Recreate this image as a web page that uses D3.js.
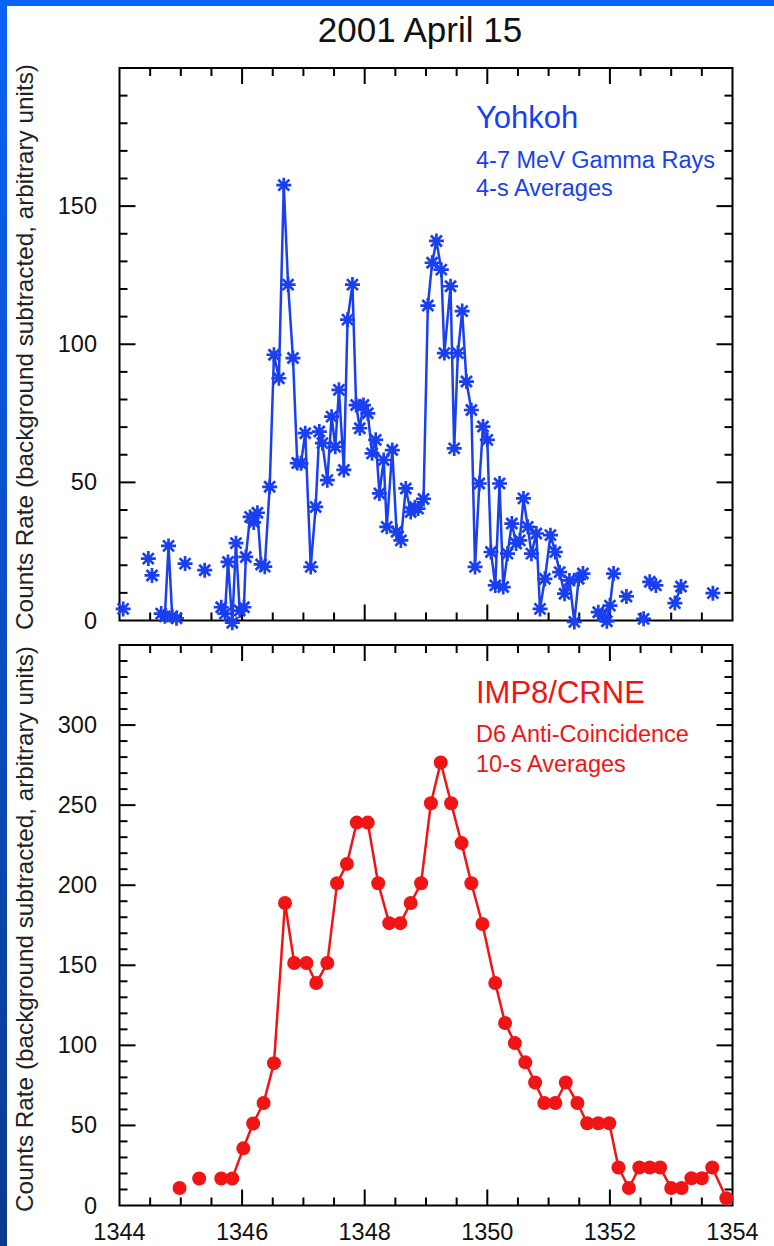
<!DOCTYPE html>
<html><head><meta charset="utf-8">
<script src="https://cdn.jsdelivr.net/npm/d3@7"></script>
<style>html,body{margin:0;padding:0;background:#fff;} svg{display:block;}</style>
</head><body>
<svg id="chart" width="774" height="1246"></svg>
<script>
const chartTitle = "2001 April 15";
const yAxisTitle = "Counts Rate (background subtracted, arbitrary units)";
const xTickLabels = [1344, 1346, 1348, 1350, 1352, 1354];
const topYTickLabels = [0, 50, 100, 150];
const bottomYTickLabels = [0, 50, 100, 150, 200, 250, 300];
const topLegend = ["Yohkoh", "4-7 MeV Gamma Rays", "4-s Averages"];
const bottomLegend = ["IMP8/CRNE", "D6 Anti-Coincidence", "10-s Averages"];

// Yohkoh 4-7 MeV, 4-s averages (null = break in the line)
const yohkohTime = [
  1344.06, null,
  1344.47, null,
  1344.53, null,
  1344.68, 1344.74, 1344.80, 1344.86, 1344.93, null,
  1345.07, null,
  1345.39, null,
  1345.66, 1345.72, 1345.77, 1345.84, 1345.90, 1345.96, 1346.03, 1346.06, 1346.13, 1346.19,
  1346.25, 1346.31, 1346.37, 1346.45, 1346.52, 1346.60, 1346.68, 1346.75, 1346.83, 1346.90,
  1346.96, 1347.03, 1347.12, 1347.20, 1347.26, 1347.31, 1347.39, 1347.46, 1347.52, 1347.58,
  1347.66, 1347.72, 1347.80, 1347.86, 1347.92, 1347.98, 1348.05, 1348.12, 1348.18, 1348.24,
  1348.31, 1348.36, 1348.45, 1348.52, 1348.59, 1348.67, 1348.75, 1348.82, 1348.87, 1348.96,
  1349.03, 1349.10, 1349.17, 1349.25, 1349.30, 1349.40, 1349.46, 1349.52, 1349.59, 1349.66,
  1349.74, 1349.80, 1349.87, 1349.93, 1350.00, 1350.06, 1350.13, 1350.20, 1350.26, 1350.33,
  1350.40, 1350.47, 1350.53, 1350.59, 1350.66, 1350.72, 1350.80, 1350.86, 1350.94, 1351.03,
  1351.11, 1351.18, 1351.26, 1351.34, 1351.42, 1351.49, 1351.56, null,
  1351.81, 1351.88, 1351.95, 1352.00, 1352.06, null,
  1352.27, null,
  1352.55, null,
  1352.65, 1352.75, null,
  1353.06, 1353.16, null,
  1353.68
];
const yohkohRate = [
  4.2, null,
  22.4, null,
  16.3, null,
  2.5, 1.5, 27.0, 1.5, 0.8, null,
  20.6, null,
  18.2, null,
  4.8, 2.5, 21.2, -0.8, 28.0, 3.6, 4.8, 23.0, 37.5, 35.5,
  39.0, 20.3, 19.5, 48.4, 96.2, 87.7, 157.6, 121.6, 95.0, 57.0,
  56.9, 67.8, 19.4, 41.1, 68.4, 64.2, 50.8, 73.8, 62.9, 83.5,
  54.5, 108.9, 121.6, 78.0, 69.6, 78.0, 75.0, 60.5, 65.4, 46.0,
  58.1, 33.9, 61.7, 32.1, 29.0, 47.8, 39.3, 41.0, 40.5, 44.0,
  114.0, 129.5, 137.4, 127.0, 96.8, 121.0, 62.3, 96.8, 112.0, 86.5,
  76.2, 19.4, 49.6, 70.2, 65.4, 24.8, 12.7, 49.6, 12.1, 24.2,
  35.1, 27.9, 29.0, 44.2, 33.9, 24.2, 31.5, 4.2, 15.1, 30.9,
  24.8, 17.5, 9.7, 14.5, -0.5, 15.1, 17.0, null,
  3.0, 1.8, -0.3, 5.4, 17.0, null,
  8.7, null,
  0.6, null,
  14.0, 12.7, null,
  6.3, 12.3, null,
  9.9
];

// IMP8/CRNE D6 anti-coincidence, 10-s averages
const imp8Time = [
  1344.98, null,
  1345.30, null,
  1345.66, 1345.84, 1346.02, 1346.18, 1346.35, 1346.52, 1346.70, 1346.85, 1347.05, 1347.21,
  1347.39, 1347.55, 1347.71, 1347.87, 1348.05, 1348.22, 1348.40, 1348.58, 1348.75, 1348.92,
  1349.08, 1349.24, 1349.41, 1349.58, 1349.74, 1349.92, 1350.13, 1350.29, 1350.45, 1350.62,
  1350.78, 1350.93, 1351.11, 1351.28, 1351.47, 1351.63, 1351.81, 1351.99, 1352.14, 1352.31,
  1352.48, 1352.65, 1352.82, 1353.00, 1353.17, 1353.33, 1353.50, 1353.67, 1353.90
];
const imp8Rate = [
  10.9, null,
  16.9, null,
  16.9, 16.9, 35.7, 51.2, 64.0, 88.9, 188.9, 151.4, 151.4, 138.9,
  151.4, 201.2, 213.3, 239.1, 239.1, 201.2, 176.3, 176.3, 188.9, 201.2,
  251.2, 276.6, 251.2, 226.3, 201.2, 175.8, 138.9, 114.0, 101.4, 89.4,
  76.8, 64.0, 64.0, 76.8, 64.0, 51.4, 51.4, 51.4, 23.7, 10.9,
  23.7, 23.7, 23.7, 10.9, 10.9, 17.0, 17.0, 23.7, 4.5
];

const BLUE = "#1a3ff0", RED = "#f01414";
const FONT = "'Liberation Sans', Arial, Helvetica, sans-serif";

const svg = d3.select("#chart");
const W = 774, H = 1246;

// slide background frame
const defs = svg.append("defs");
const grad = defs.append("linearGradient").attr("id", "band").attr("x1", 0).attr("y1", 0).attr("x2", 0).attr("y2", 1);
grad.append("stop").attr("offset", "0%").attr("stop-color", "#0a62f5");
grad.append("stop").attr("offset", "100%").attr("stop-color", "#0a3a8e");
svg.append("rect").attr("width", W).attr("height", H).attr("fill", "#fff");
svg.append("rect").attr("x", 0).attr("y", 0).attr("width", 7).attr("height", H).attr("fill", "url(#band)");
svg.append("rect").attr("x", 0).attr("y", 0).attr("width", W).attr("height", 6).attr("fill", "#0a62f7");

svg.append("text").attr("x", 420).attr("y", 42).attr("text-anchor", "middle")
  .attr("font-family", FONT).attr("font-size", 35).attr("fill", "#111").text(chartTitle);

const x = d3.scaleLinear().domain([1344, 1354]).range([119.5, 732.5]);

function panel(opts) {
  const { yDomain, yRange, yLabels, time, rate, color, legend, legendY, titleCy, kind } = opts;
  const y = d3.scaleLinear().domain(yDomain).range(yRange);
  const g = svg.append("g");
  const [x0, x1] = x.range();
  const yb = y(yDomain[0]), yt = y(yDomain[1]);

  // ticks on all four sides
  const xMinor = d3.range(1344.5, 1354, 0.5);
  const xMajorSet = new Set(xTickLabels.map(String));
  xMinor.forEach(v => {
    const len = xMajorSet.has(String(v)) ? 16 : 8;
    g.append("line").attr("x1", x(v)).attr("x2", x(v)).attr("y1", yb).attr("y2", yb - len)
      .attr("stroke", "#000").attr("stroke-width", 2);
    g.append("line").attr("x1", x(v)).attr("x2", x(v)).attr("y1", yt).attr("y2", yt + len)
      .attr("stroke", "#000").attr("stroke-width", 2);
  });
  const yMinor = d3.range(yDomain[0] + 10, yDomain[1], 10);
  yMinor.forEach(v => {
    const len = v % 50 === 0 ? 16 : 8;
    g.append("line").attr("x1", x0).attr("x2", x0 + len).attr("y1", y(v)).attr("y2", y(v))
      .attr("stroke", "#000").attr("stroke-width", 2);
    g.append("line").attr("x1", x1).attr("x2", x1 - len).attr("y1", y(v)).attr("y2", y(v))
      .attr("stroke", "#000").attr("stroke-width", 2);
  });
  g.append("rect").attr("x", x0).attr("y", yt).attr("width", x1 - x0).attr("height", yb - yt)
    .attr("fill", "none").attr("stroke", "#000").attr("stroke-width", 2);

  // y tick labels
  g.selectAll(".yl").data(yLabels).join("text")
    .attr("x", 97).attr("y", d => y(d) + 8).attr("text-anchor", "end")
    .attr("font-family", FONT).attr("font-size", 23.5).attr("fill", "#111").text(d => d);

  // y axis title
  g.append("text").attr("transform", `translate(33,${titleCy}) rotate(-90)`)
    .attr("text-anchor", "middle").attr("font-family", FONT).attr("font-size", 24.3)
    .attr("fill", "#222").text(yAxisTitle);

  // data
  const pts = time.map((t, i) => ({ t, v: rate[i] }));
  const line = d3.line().defined(d => d.v !== null && d.t !== null).x(d => x(d.t)).y(d => y(d.v));
  g.append("path").datum(pts).attr("d", line).attr("fill", "none")
    .attr("stroke", color).attr("stroke-width", 2.5).attr("stroke-linejoin", "round");
  const valid = pts.filter(d => d.v !== null && d.t !== null);
  if (kind === "star") {
    const r = 7.5, d2 = 5.5;
    const starPath = `M0,${-r}L0,${r}M${-r},0L${r},0M${-d2},${-d2}L${d2},${d2}M${-d2},${d2}L${d2},${-d2}`;
    g.selectAll(".m").data(valid).join("path")
      .attr("transform", d => `translate(${x(d.t)},${y(d.v)})`)
      .attr("d", starPath).attr("stroke", color).attr("stroke-width", 2.7).attr("fill", "none");
  } else {
    g.selectAll(".m").data(valid).join("circle")
      .attr("cx", d => x(d.t)).attr("cy", d => y(d.v)).attr("r", 7).attr("fill", color);
  }

  // legend
  const sizes = [31, 23.5, 23.5];
  legend.forEach((s, i) => {
    g.append("text").attr("x", 476).attr("y", legendY[i]).attr("font-family", FONT)
      .attr("font-size", sizes[i]).attr("fill", color).text(s);
  });
  return y;
}

panel({ yDomain: [0, 200], yRange: [620.5, 68], yLabels: topYTickLabels,
  time: yohkohTime, rate: yohkohRate, color: BLUE, legend: topLegend,
  legendY: [128, 168, 196], titleCy: 347, kind: "star" });

panel({ yDomain: [0, 350], yRange: [1205.5, 645], yLabels: bottomYTickLabels,
  time: imp8Time, rate: imp8Rate, color: RED, legend: bottomLegend,
  legendY: [703, 742, 772], titleCy: 929, kind: "dot" });

// x tick labels (bottom panel only)
svg.selectAll(".xl").data(xTickLabels).join("text")
  .attr("x", d => x(d)).attr("y", 1240).attr("text-anchor", "middle")
  .attr("font-family", FONT).attr("font-size", 23.5).attr("fill", "#111").text(d => d);
</script>
</body></html>
